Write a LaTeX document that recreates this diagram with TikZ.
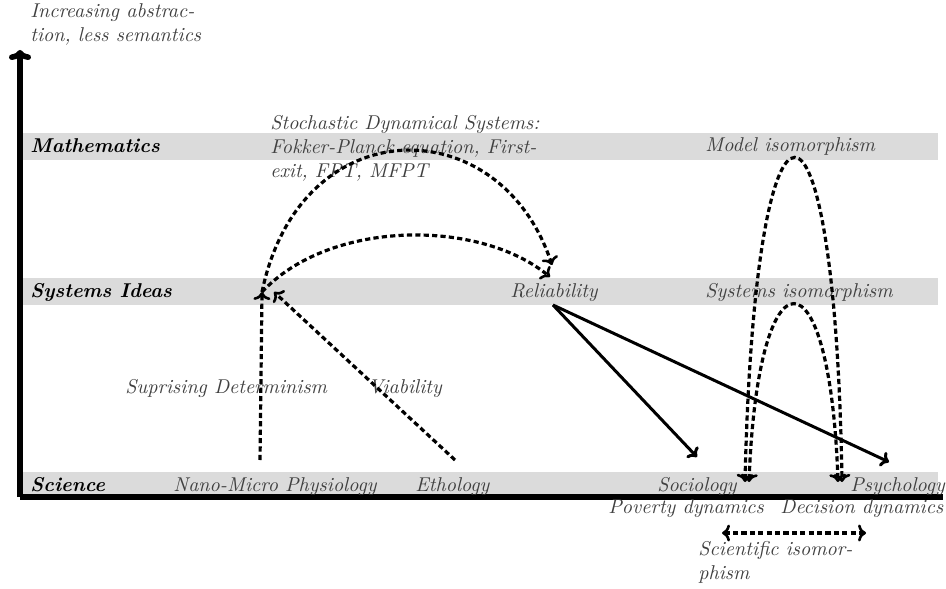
\documentclass[tikz,border=0pt]{standalone}
\usetikzlibrary{arrows.meta}
\begin{document}
\begin{tikzpicture}[x=0.5pt,y=-0.5pt,
  band/.style={fill=black!14,draw=none},
  lvl/.style={anchor=base west,inner sep=0pt,font=\bfseries\itshape,text=black},
  lab/.style={anchor=base west,inner sep=0pt,font=\itshape,text=black!75},
  axis/.style={line width=2.8pt},
  tipd/.tip={To[length=4pt,width=8.5pt,line width=1.3pt]},
  dsh/.style={line width=1.6pt,dash pattern=on 2.6pt off 1.6pt,-tipd},
  dshb/.style={line width=1.6pt,dash pattern=on 2.6pt off 1.6pt,tipd-tipd},
  sol/.style={line width=1.5pt,-{To[length=4pt,width=8pt]}}]
\useasboundingbox (0,0) rectangle (946,588);
% bands
\fill[band] (22,133) rectangle (938,160);
\fill[band] (22,278) rectangle (938,305);
\fill[band] (22,472) rectangle (938,494);
% axes
\coordinate (o) at (20,497);
\coordinate (ytop) at (20,50);
\coordinate (xend) at (943,497);
\draw[axis] (o) -- (xend);
\draw[axis,-{To[length=5pt,width=11pt]}] (o) -- (ytop);
% labels
\node[lab,align=left] (inc) at (30,42) {Increasing abstrac-\\tion, less semantics};
\node[lvl] (math) at (30,153) {Mathematics};
\node[lvl] (sys) at (30,297) {Systems Ideas};
\node[lvl] (sci) at (30,491) {Science};
\node[lab,align=left] (sds) at (270,177) {Stochastic Dynamical Systems:\\Fokker-Planck equation, First-\\exit, FPT, MFPT};
\node[lab] (model) at (705,152) {Model isomorphism};
\node[lab] (sysiso) at (705,297) {Systems isomorphism};
\node[lab] (rel) at (510,297) {Reliability};
\node[lab] (sup) at (125,393) {Suprising Determinism};
\node[lab] (via) at (368,393) {Viability};
\node[lab] (nano) at (173,491) {Nano-Micro Physiology};
\node[lab] (eth) at (415,491) {Ethology};
\node[lab] (soc) at (657,491) {Sociology};
\node[lab] (psy) at (850,491) {Psychology};
\node[lab] (pov) at (608,513) {Poverty dynamics};
\node[lab] (dec) at (780,513) {Decision dynamics};
\node[lab,align=left] (sciiso) at (698,579) {Scientific isomor-\\phism};
% connector end points
\coordinate (nanoS) at (260,460);
\coordinate (ethS) at (455,460);
\coordinate (sysP) at (262,292);
\coordinate (sysQ) at (274,292);
\coordinate (relA) at (552,265);
\coordinate (relB) at (550,277);
\coordinate (relS) at (553,305);
\coordinate (socE) at (697,457);
\coordinate (psyE) at (889,462);
\coordinate (socT) at (745,482);
\coordinate (psyT) at (842,482);
\coordinate (socU) at (749,482);
\coordinate (psyU) at (838,482);
\coordinate (isoL) at (722,533);
\coordinate (isoR) at (866,533);
% connectors
\draw[dsh] (nanoS) -- (sysP);
\draw[dsh] (ethS) -- (sysQ);
\draw[dsh] (sysP) .. controls (300,108) and (500,108) .. (relA);
\draw[dsh] (sysP) .. controls (330,219) and (480,219) .. (relB);
\draw[sol] (relS) -- (socE);
\draw[sol] (relS) -- (psyE);
\draw[dshb] (socT) .. controls (755,50) and (835,50) .. (psyT);
\draw[dshb] (socU) .. controls (758,245) and (830,245) .. (psyU);
\draw[dshb] (isoL) -- (isoR);
\end{tikzpicture}
\end{document}
